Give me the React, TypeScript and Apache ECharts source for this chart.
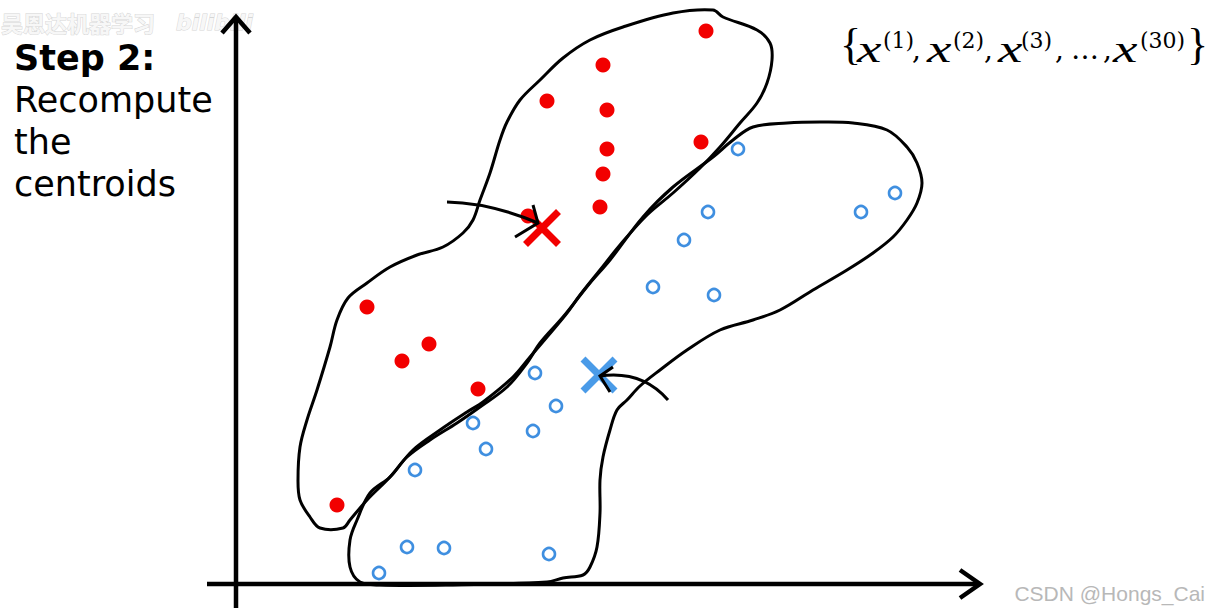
import React, { useEffect, useRef } from "react";
import * as echarts from "echarts";

// Data coordinates: origin where the two hand-drawn axes cross
const xLimits = [-236, 975];
const yLimits = [-29, 584];

const redPoints: number[][] = [
  [470, 553], [367, 519], [311, 483], [371, 474], [371, 435], [367, 410], [364, 377],
  [465, 442], [292, 368], [131, 277], [193, 240], [166, 223], [242, 195], [101, 79],
];
const bluePoints: number[][] = [
  [502, 435], [659, 391], [625, 372], [472, 372], [448, 344], [417, 297], [478, 289],
  [299, 211], [320, 178], [237, 161], [297, 153], [250, 135], [179, 114], [171, 37],
  [208, 36], [313, 30], [143, 11],
];
const redCentroid: number[][] = [[306, 356]];
const blueCentroid: number[][] = [[363, 209]];

const redOutline: number[][] = [
  [477, 574], [437, 571], [387, 557], [354, 544], [327, 526], [304, 504], [284, 484],
  [271, 462], [264, 444], [254, 411], [244, 384], [237, 364], [227, 351], [207, 337],
  [181, 329], [154, 317], [131, 301], [112, 286], [101, 264], [94, 237], [81, 194],
  [71, 164], [64, 137], [62, 104], [64, 84], [74, 67], [84, 56], [107, 56], [114, 64],
  [131, 84], [154, 107], [177, 134], [204, 154], [231, 172], [247, 182], [277, 207],
  [294, 227], [311, 247], [331, 271], [344, 289], [364, 314], [384, 339], [411, 369],
  [437, 391], [464, 416], [484, 437], [504, 461], [521, 481], [531, 501], [536, 524],
  [534, 541], [521, 554], [487, 567],
];
const blueOutline: number[][] = [
  [124, 2], [114, 17], [114, 44], [121, 64], [134, 91], [154, 107], [171, 127],
  [194, 144], [221, 161], [244, 177], [271, 197], [291, 221], [304, 241], [327, 267],
  [354, 301], [374, 324], [407, 367], [437, 397], [477, 427], [497, 444], [517, 457],
  [551, 461], [584, 462], [617, 461], [651, 454], [671, 437], [681, 421], [686, 401],
  [681, 381], [671, 364], [657, 347], [637, 331], [611, 314], [577, 294], [544, 274],
  [517, 264], [484, 254], [451, 234], [424, 214], [404, 198], [391, 184], [381, 174],
  [374, 154], [367, 127], [364, 104], [364, 71], [361, 37], [354, 17], [347, 9],
  [327, 6], [311, 2], [211, -1], [144, -1],
];

const yAxisLine: number[][] = [[0, -24], [0, 567]];
const yArrowHead: number[][] = [[-14, 551], [0, 567], [14, 551]];
const xAxisLine: number[][] = [[-29, 0], [744, 0]];
const xArrowHead: number[][] = [[724, 14], [744, 0], [724, -14]];

const redArrowCurve: number[][] = [[211, 382], [255, 381], [302, 361]];
const redArrowHead: number[][] = [[297, 379], [302, 361], [279, 347]];
const blueArrowCurve: number[][] = [[432, 184], [406, 214], [364, 208]];
const blueArrowHead: number[][] = [[377, 217], [364, 208], [374, 192]];

const titleLines = ["Step 2:", "Recompute", "the", "centroids"];
const setItems = ["(1)", "(2)", "(3)", "(30)"];

const RED = "#f20000";
const BLUE_RING = "#3f8fe0";
const BLUE_X = "#4a9be8";
const X_SYMBOL = "path://M0,0L10,10M10,0L0,10";

export default function App() {
  const ref = useRef<HTMLDivElement>(null);

  useEffect(() => {
    if (!ref.current) return;
    const chart = echarts.init(ref.current, undefined, { renderer: "svg" });

    const toPx = (api: any, arr: number[][]) => arr.map((p) => api.coord(p));
    const ink = { fill: "none", stroke: "#000", lineWidth: 3 };

    const titleGraphics = titleLines.map((t, i) => ({
      type: "text",
      left: 14,
      top: 40 + i * 42,
      style: {
        text: t,
        fill: "#000",
        font: `${i === 0 ? "bold " : ""}35px "DejaVu Sans", Verdana, sans-serif`,
      },
    }));

    const xPositions = [857, 927, 998, 1113];
    const supPositions = [883, 953, 1021, 1140];
    const commaPositions = [912, 984, 1055, 1103];
    const serif = '"DejaVu Serif", serif';
    const formula: any[] = [
      { type: "text", x: 840, y: 22, style: { text: "{", fill: "#000", font: '44px "Liberation Serif", serif' } },
      { type: "text", x: 1187, y: 22, style: { text: "}", fill: "#000", font: '44px "Liberation Serif", serif' } },
      { type: "text", x: 1071, y: 35, style: { text: "…", fill: "#000", font: `28px ${serif}` } },
    ];
    xPositions.forEach((x, i) => {
      formula.push({ type: "text", x, y: 30, scaleX: 1.45, style: { text: "x", fill: "#000", font: 'italic 38px "Liberation Serif", serif' } });
      formula.push({ type: "text", x: supPositions[i], y: 29, style: { text: setItems[i], fill: "#000", font: `22px ${serif}` } });
    });
    commaPositions.forEach((x) => {
      formula.push({ type: "text", x, y: 35, style: { text: ",", fill: "#000", font: `28px ${serif}` } });
    });

    chart.setOption({
      animation: false,
      backgroundColor: "#ffffff",
      grid: { left: 0, right: 0, top: 0, bottom: 0 },
      xAxis: { type: "value", min: xLimits[0], max: xLimits[1], show: false },
      yAxis: { type: "value", min: yLimits[0], max: yLimits[1], show: false },
      graphic: [
        {
          type: "text",
          x: 1,
          y: 9,
          style: {
            text: "吴恩达机器学习",
            fill: "#f7f7f7",
            stroke: "#d6d6d6",
            lineWidth: 1,
            font: 'bold 22px "Noto Sans CJK SC", sans-serif',
            lineHeight: 26,
          },
        },
        {
          type: "text",
          x: 176,
          y: 9,
          style: {
            text: "bilibili",
            fill: "#f7f7f7",
            stroke: "#d6d6d6",
            lineWidth: 1,
            font: 'bold italic 22px "DejaVu Sans", sans-serif',
            lineHeight: 26,
          },
        },
        ...titleGraphics,
        ...formula,
        {
          type: "text",
          right: 6,
          bottom: 9,
          style: {
            text: "CSDN @Hongs_Cai",
            fill: "#b8b8b8",
            font: '21px "Liberation Sans", Arial, sans-serif',
          },
        },
      ],
      series: [
        {
          type: "custom",
          z: 1,
          silent: true,
          data: [[0, 0]],
          renderItem: (_params: any, api: any) => ({
            type: "group",
            children: [
              { type: "polygon", shape: { points: toPx(api, redOutline), smooth: 0.35 }, style: ink },
              { type: "polygon", shape: { points: toPx(api, blueOutline), smooth: 0.35 }, style: ink },
              { type: "polyline", shape: { points: toPx(api, yAxisLine) }, style: { ...ink, lineWidth: 4.5 } },
              { type: "polyline", shape: { points: toPx(api, yArrowHead) }, style: { ...ink, lineWidth: 4.5 } },
              { type: "polyline", shape: { points: toPx(api, xAxisLine) }, style: { ...ink, lineWidth: 4.5 } },
              { type: "polyline", shape: { points: toPx(api, xArrowHead) }, style: { ...ink, lineWidth: 4.5 } },
            ],
          }),
        },
        {
          type: "scatter",
          z: 2,
          data: redPoints,
          symbol: "circle",
          symbolSize: 15,
          itemStyle: { color: RED, opacity: 1 },
        },
        {
          type: "scatter",
          z: 2,
          data: bluePoints,
          symbol: "circle",
          symbolSize: 12,
          itemStyle: { color: "#ffffff", borderColor: BLUE_RING, borderWidth: 2.6, opacity: 1 },
        },
        {
          type: "scatter",
          z: 3,
          data: redCentroid,
          symbol: X_SYMBOL,
          symbolSize: 33,
          itemStyle: { color: RED, borderColor: RED, borderWidth: 7, opacity: 1 },
        },
        {
          type: "scatter",
          z: 3,
          data: blueCentroid,
          symbol: X_SYMBOL,
          symbolSize: 32,
          itemStyle: { color: BLUE_X, borderColor: BLUE_X, borderWidth: 7, opacity: 1 },
        },
        {
          type: "custom",
          z: 4,
          silent: true,
          data: [[0, 0]],
          renderItem: (_params: any, api: any) => {
            const r = toPx(api, redArrowCurve);
            const b = toPx(api, blueArrowCurve);
            return {
              type: "group",
              children: [
                { type: "bezierCurve", shape: { x1: r[0][0], y1: r[0][1], cpx1: r[1][0], cpy1: r[1][1], x2: r[2][0], y2: r[2][1] }, style: ink },
                { type: "polyline", shape: { points: toPx(api, redArrowHead) }, style: ink },
                { type: "bezierCurve", shape: { x1: b[0][0], y1: b[0][1], cpx1: b[1][0], cpy1: b[1][1], x2: b[2][0], y2: b[2][1] }, style: ink },
                { type: "polyline", shape: { points: toPx(api, blueArrowHead) }, style: ink },
              ],
            };
          },
        },
      ],
    });

    return () => chart.dispose();
  }, []);

  return (
    <div
      ref={ref}
      style={{ position: "absolute", left: 0, top: 0, width: 1211, height: 613, background: "#fff" }}
    />
  );
}
